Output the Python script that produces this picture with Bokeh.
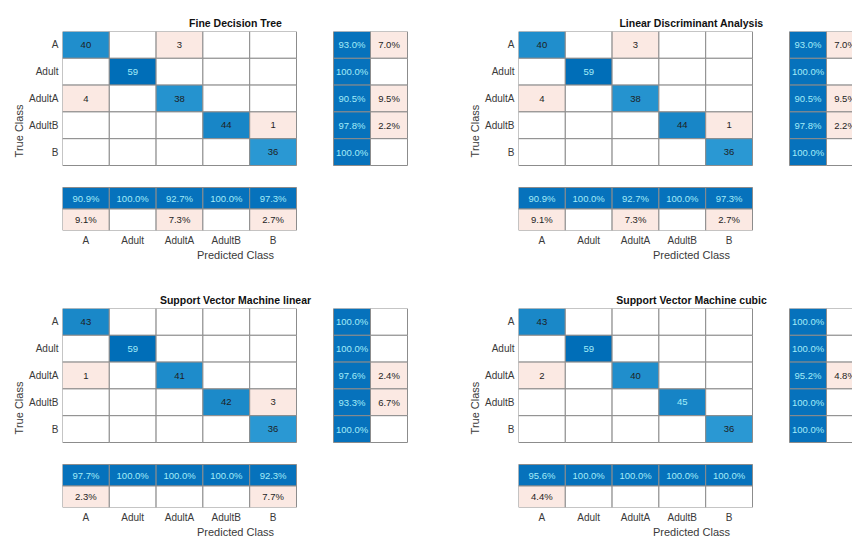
from bokeh.plotting import figure
from bokeh.layouts import column, row
from bokeh.models import Range1d, FixedTicker, ColumnDataSource
from bokeh.core.properties import value
from bokeh.embed import file_html
from bokeh.resources import INLINE

# Class names (true rows / predicted columns)
classes = ["A", "Adult", "AdultA", "AdultB", "B"]

titles = [
    "Fine Decision Tree",
    "Linear Discriminant Analysis",
    "Support Vector Machine linear",
    "Support Vector Machine cubic",
]

# Confusion matrices: rows = true class, columns = predicted class
fine_tree = [
    [40, 0, 3, 0, 0],
    [0, 59, 0, 0, 0],
    [4, 0, 38, 0, 0],
    [0, 0, 0, 44, 1],
    [0, 0, 0, 0, 36],
]
lda = [
    [40, 0, 3, 0, 0],
    [0, 59, 0, 0, 0],
    [4, 0, 38, 0, 0],
    [0, 0, 0, 44, 1],
    [0, 0, 0, 0, 36],
]
svm_linear = [
    [43, 0, 0, 0, 0],
    [0, 59, 0, 0, 0],
    [1, 0, 41, 0, 0],
    [0, 0, 0, 42, 3],
    [0, 0, 0, 0, 36],
]
svm_cubic = [
    [43, 0, 0, 0, 0],
    [0, 59, 0, 0, 0],
    [2, 0, 40, 0, 0],
    [0, 0, 0, 45, 0],
    [0, 0, 0, 0, 36],
]

FONT = "Liberation Sans"
GRID = "#8c8c8c"
PINK = "#fbe9e3"
DARK_BLUE = (0, 110, 184)
LIGHT_BLUE = (60, 170, 222)
SUMMARY_BLUE = "#0672bc"
LIGHT_TEXT = "#a3ecf8"
DARK_TEXT = "#1e1e1e"

# frame geometry (pixels)
FRAME_W, FRAME_H = 346, 199
CELL_W, CELL_H = 46.8, 26.8
XT, YT = FRAME_W / CELL_W, FRAME_H / CELL_H
RS_X0, RS_W = 271 / CELL_W, 37 / CELL_W      # right summary (per true class)
BS_Y0, BS_H = 156 / CELL_H, 21.5 / CELL_H    # bottom summary (per predicted class)


def hexcol(c):
    return "#%02x%02x%02x" % tuple(int(round(v)) for v in c)


def diag_color(t):
    f = min(max((t - 0.55) / 0.45, 0.0), 1.0) ** 0.6
    return hexcol([l + (d - l) * f for l, d in zip(LIGHT_BLUE, DARK_BLUE)])


def make_panel(title, counts, width, height, left, right, top, bottom):
    n = len(classes)
    p = figure(width=width, height=height, output_backend="svg", toolbar_location=None,
               x_range=Range1d(0, XT), y_range=Range1d(YT, 0),
               min_border_left=left, min_border_right=right,
               min_border_top=top, min_border_bottom=bottom)
    p.outline_line_color = None
    p.grid.visible = False
    p.background_fill_color = "white"
    p.border_fill_color = "white"

    vmax = max(max(r) for r in counts)
    cells = dict(l=[], r=[], t=[], b=[], fill=[], x=[], y=[], txt=[], tc=[])

    def add(l, r, t, b, fill, txt, tc):
        cells["l"].append(l); cells["r"].append(r)
        cells["t"].append(t); cells["b"].append(b)
        cells["fill"].append(fill)
        cells["x"].append((l + r) / 2); cells["y"].append((t + b) / 2)
        cells["txt"].append(txt); cells["tc"].append(tc)

    # main matrix
    for i in range(n):
        for j in range(n):
            v = counts[i][j]
            if v == 0:
                add(j, j + 1, i, i + 1, "white", "", DARK_TEXT)
            elif i == j:
                t = v / vmax
                add(j, j + 1, i, i + 1, diag_color(t), str(v),
                    LIGHT_TEXT if t > 0.755 else DARK_TEXT)
            else:
                add(j, j + 1, i, i + 1, PINK, str(v), DARK_TEXT)

    # row summary: true positive rate / false negative rate
    for i in range(n):
        tot = sum(counts[i])
        ok = 100.0 * counts[i][i] / tot
        bad = 100.0 - ok
        add(RS_X0, RS_X0 + RS_W, i, i + 1, SUMMARY_BLUE, "%.1f%%" % ok, LIGHT_TEXT)
        if counts[i][i] < tot:
            add(RS_X0 + RS_W, RS_X0 + 2 * RS_W, i, i + 1, PINK, "%.1f%%" % bad, DARK_TEXT)
        else:
            add(RS_X0 + RS_W, RS_X0 + 2 * RS_W, i, i + 1, "white", "", DARK_TEXT)

    # column summary: precision / false discovery rate
    for j in range(n):
        tot = sum(counts[i][j] for i in range(n))
        ok = 100.0 * counts[j][j] / tot
        bad = 100.0 - ok
        add(j, j + 1, BS_Y0, BS_Y0 + BS_H, SUMMARY_BLUE, "%.1f%%" % ok, LIGHT_TEXT)
        if counts[j][j] < tot:
            add(j, j + 1, BS_Y0 + BS_H, BS_Y0 + 2 * BS_H, PINK, "%.1f%%" % bad, DARK_TEXT)
        else:
            add(j, j + 1, BS_Y0 + BS_H, BS_Y0 + 2 * BS_H, "white", "", DARK_TEXT)

    src = ColumnDataSource(cells)
    p.quad(left="l", right="r", top="t", bottom="b", fill_color="fill",
           line_color=GRID, line_width=1, source=src)
    p.text(x="x", y="y", text="txt", text_color="tc", text_align="center",
           text_baseline="middle", text_font_size="9.5px", text_font=value(FONT),
           source=src)

    ticks = [k + 0.5 for k in range(n)]
    overrides = {k + 0.5: c for k, c in enumerate(classes)}
    for ax, lab in ((p.xaxis[0], "Predicted Class"), (p.yaxis[0], "True Class")):
        ax.ticker = FixedTicker(ticks=ticks)
        ax.major_label_overrides = overrides
        ax.axis_label = lab
        ax.axis_line_color = None
        ax.major_tick_line_color = None
        ax.minor_tick_line_color = None
        ax.major_tick_in = 0
        ax.major_tick_out = 0
        ax.major_label_text_font = FONT
        ax.major_label_text_font_size = "10px"
        ax.major_label_text_color = "#3a3a3a"
        ax.axis_label_text_font = FONT
        ax.axis_label_text_font_size = "11px"
        ax.axis_label_text_font_style = "normal"
        ax.axis_label_text_color = "#3a3a3a"
        ax.major_label_standoff = 4
        ax.axis_label_standoff = 1
    p.yaxis.major_label_orientation = "horizontal"
    p.xaxis.axis_label_standoff = 0

    p.title.text = title
    p.title.align = "center"
    p.title.text_font = FONT
    p.title.text_font_size = "10.5px"
    p.title.text_font_style = "bold"
    p.title.text_color = "#111111"
    p.title.standoff = 6
    return p


p1 = make_panel(titles[0], fine_tree, 430, 270, 62, 22, 31, 40)
p2 = make_panel(titles[1], lda, 440, 270, 88, 6, 31, 40)
p3 = make_panel(titles[2], svm_linear, 430, 277, 62, 22, 38, 40)
p4 = make_panel(titles[3], svm_cubic, 440, 277, 88, 6, 38, 40)

p = column(row(p1, p2, spacing=0), row(p3, p4, spacing=0), spacing=0)

open("out.html", "w").write(file_html(p, INLINE))
